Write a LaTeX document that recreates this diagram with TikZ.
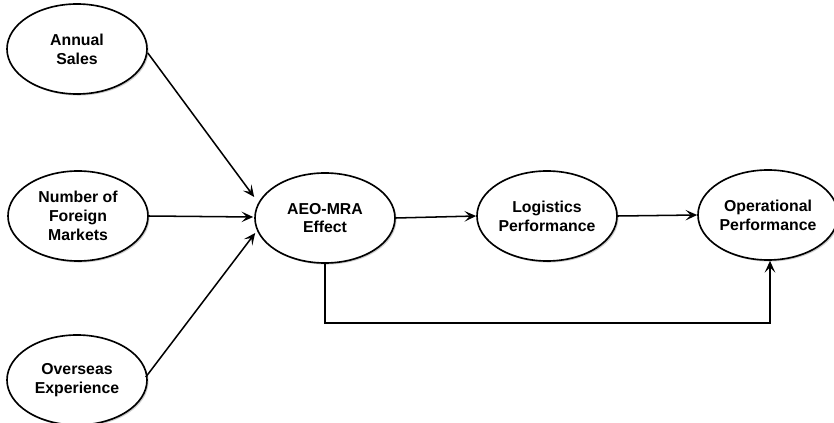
\documentclass[tikz,border=0pt]{standalone}
\usepackage{fontspec}
\setmainfont{Liberation Sans}
\usetikzlibrary{arrows.meta,shadows,calc,shapes.geometric}
\begin{document}
\begin{tikzpicture}[x=0.03cm,y=-0.03cm,
  latent/.style={ellipse,draw=black,line width=1.4pt,fill=white,
    minimum width=4.2cm,minimum height=2.7cm,inner sep=0pt,align=center,
    font=\fontsize{13.5}{16}\selectfont\bfseries,
    drop shadow={opacity=0.4,shadow xshift=1.3pt,shadow yshift=-1.3pt}},
  link/.style={line width=1.3pt,-{Stealth[length=10pt,width=9pt,inset=4.5pt]}}]
\fill[white] (0,0) rectangle (834,423);
\useasboundingbox (0,0) rectangle (834,423);
\node[latent] (ann) at (77,49) {Annual\\Sales};
\node[latent] (num) at (78,216) {Number of\\Foreign\\Markets};
\node[latent] (ove) at (77,380) {Overseas\\Experience};
\node[latent] (aeo) at (325,218) {AEO-MRA\\Effect};
\node[latent] (log) at (547,216) {Logistics\\Performance};
\node[latent] (ope) at (768,215) {Operational\\Performance};
\coordinate (aeoA) at ($(aeo.west)+(0,-21)$);
\coordinate (aeoB) at ($(aeo.west)+(-1,-1)$);
\coordinate (aeoC) at ($(aeo.west)+(1,15)$);
\coordinate (annS) at ($(ann.east)+(0,4)$);
\coordinate (oveS) at ($(ove.east)+(-2,-3)$);
\coordinate (bl) at (aeo.south |- 0,323);
\coordinate (br) at ($(ope.south |- 0,323)+(2,0)$);
\coordinate (opeS) at ($(ope.south)+(2,0)$);
\draw[link] (annS) -- (aeoA);
\draw[link] (num.east) -- (aeoB);
\draw[link] (oveS) -- (aeoC);
\draw[link] (aeo.east) -- (log.west);
\draw[link] (log.east) -- (ope.west);
\draw[link] (aeo.south) -- (bl) -- (br) -- (opeS);
\end{tikzpicture}
\end{document}
